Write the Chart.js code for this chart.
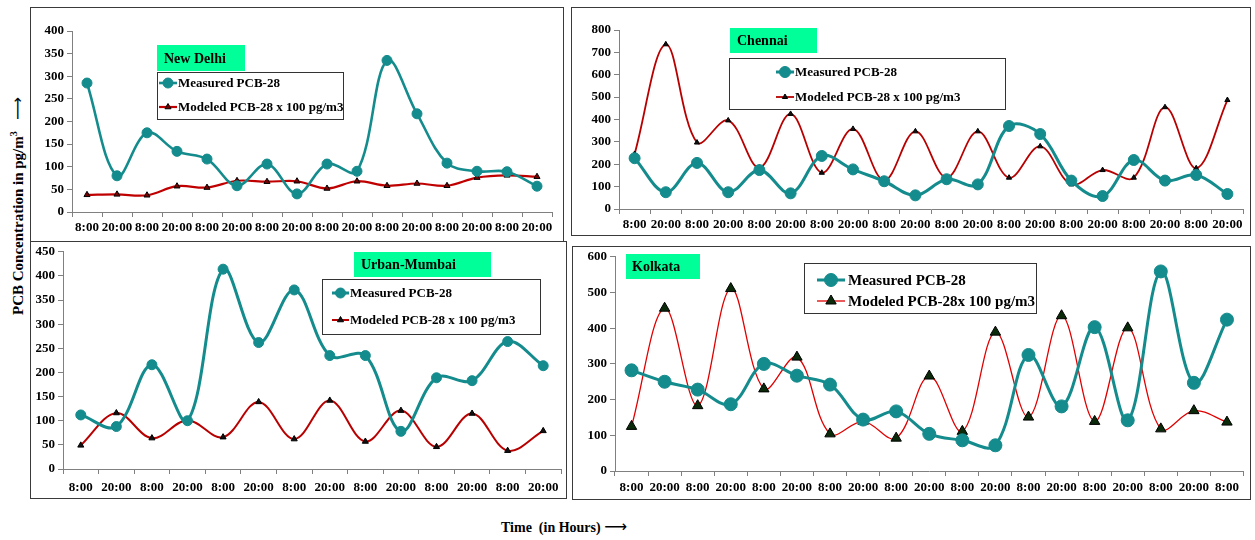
<!DOCTYPE html>
<html>
<head>
<meta charset="utf-8">
<script src="https://cdn.jsdelivr.net/npm/chart.js@4.4.1/dist/chart.umd.min.js"></script>
<style>
  html, body { margin: 0; padding: 0; background: #fff; }
  body { width: 1255px; height: 540px; position: relative; overflow: hidden;
         font-family: "Liberation Serif", "Times New Roman", serif; }
  .panel { position: absolute; }
  .panel canvas { position: absolute; left: 0; top: 0; }
  .frame { position: absolute; left: 0; top: 0; right: 0; bottom: 0; box-sizing: border-box;
           border: 1.5px solid #3a3a3a; pointer-events: none; }
  #ytitle { position: absolute; left: 17px; top: 206px; white-space: nowrap; font-weight: bold;
            font-size: 15px; transform: translate(-50%, -50%) rotate(-90deg); color: #000; }
  #ytitle sup { font-size: 10px; }
  #xtitle { position: absolute; left: 501px; top: 517px; white-space: nowrap; font-weight: bold;
            font-size: 14px; color: #000; }
  .arrow { font-weight: normal; font-family: "DejaVu Sans", sans-serif; font-size: 16px; }
</style>
</head>
<body>
<div class="panel" id="p-delhi"><canvas id="c-delhi"></canvas><div class="frame"></div></div>
<div class="panel" id="p-chennai"><canvas id="c-chennai"></canvas><div class="frame"></div></div>
<div class="panel" id="p-mumbai"><canvas id="c-mumbai"></canvas><div class="frame"></div></div>
<div class="panel" id="p-kolkata"><canvas id="c-kolkata"></canvas><div class="frame"></div></div>
<div id="ytitle">PCB Concentration in pg/m<sup>3</sup>&nbsp;&nbsp;&nbsp;<span class="arrow">&#x27F6;</span></div>
<div id="xtitle">Time&nbsp; (in Hours) <span class="arrow">&#x27F6;</span></div>

<script>
// ---- Sampling times (x-axis tick labels) ----
const delhiTimes   = ["8:00","20:00","8:00","20:00","8:00","20:00","8:00","20:00",
                      "8:00","20:00","8:00","20:00","8:00","20:00","8:00","20:00"];
const chennaiTimes = ["8:00","20:00","8:00","20:00","8:00","20:00","8:00","20:00","8:00","20:00",
                      "8:00","20:00","8:00","20:00","8:00","20:00","8:00","20:00","8:00","20:00"];
const mumbaiTimes  = ["8:00","20:00","8:00","20:00","8:00","20:00","8:00",
                      "20:00","8:00","20:00","8:00","20:00","8:00","20:00"];
const kolkataTimes = ["8:00","20:00","8:00","20:00","8:00","20:00","8:00","20:00","8:00","20:00",
                      "8:00","20:00","8:00","20:00","8:00","20:00","8:00","20:00","8:00"];

// ---- PCB-28 concentrations, pg/m3 ----
const delhiMeasured   = [285, 80, 175, 134, 117, 58, 106, 40, 106, 90, 335, 217, 108, 90, 89, 57];
const delhiModeled    = [38, 39, 37, 57, 54, 69, 67, 68, 52, 68, 58, 63, 58, 76, 81, 78];

const chennaiMeasured = [227, 75, 206, 75, 174, 70, 237, 177, 124, 61, 133, 110, 371, 335, 127, 58, 219, 127, 152, 67];
const chennaiModeled  = [246, 736, 297, 396, 185, 425, 162, 358, 128, 347, 140, 347, 140, 280, 110, 174, 140, 455, 182, 487];

const mumbaiMeasured  = [112, 88, 216, 100, 414, 262, 371, 235, 235, 78, 189, 183, 264, 214];
const mumbaiModeled   = [49, 116, 64, 101, 66, 139, 62, 142, 57, 121, 46, 115, 38, 79];

const kolkataMeasured = [282, 250, 228, 187, 300, 267, 242, 144, 167, 104, 86, 72, 325, 181, 403, 142, 559, 247, 424];
const kolkataModeled  = [125, 456, 183, 511, 230, 319, 104, 139, 92, 266, 111, 389, 151, 435, 139, 401, 118, 169, 137];

// ---- Axis ranges ----
const delhiAxis   = { max: 400, step: 50 };
const chennaiAxis = { max: 800, step: 100 };
const mumbaiAxis  = { max: 450, step: 50 };
const kolkataAxis = { max: 600, step: 100 };

// ---- Series names ----
const measuredName = "Measured PCB-28";
const modeledName  = "Modeled PCB-28 x 100 pg/m3";
const modeledNameK = "Modeled PCB-28x 100 pg/m3";

const FONT = '"Liberation Serif", "Times New Roman", serif';
const TEAL = '#148B8C';
const BADGE = '#00FF99';

// Draws the city badge and the boxed legend inside the plot
const panelDecor = {
  id: 'panelDecor',
  afterDatasetsDraw(chart, args, o) {
    const ctx = chart.ctx;
    const ox = o.origin[0], oy = o.origin[1];
    ctx.save();
    const b = o.badge;
    ctx.fillStyle = BADGE;
    ctx.fillRect(b.x - ox, b.y - oy, b.w, b.h);
    ctx.fillStyle = '#000';
    ctx.font = 'bold ' + b.size + 'px ' + FONT;
    ctx.textBaseline = 'middle';
    ctx.textAlign = 'left';
    ctx.fillText(b.text, b.x - ox + b.pad, b.y - oy + b.h / 2 + 1);

    const l = o.legend;
    ctx.fillStyle = '#fff';
    ctx.fillRect(l.x - ox, l.y - oy, l.w, l.h);
    ctx.strokeStyle = '#333';
    ctx.lineWidth = 1;
    ctx.strokeRect(l.x - ox + 0.5, l.y - oy + 0.5, l.w, l.h);
    chart.data.datasets.forEach((ds, i) => {
      const y = l.rows[i] - oy;
      const x1 = l.x1 - ox, x2 = l.x2 - ox;
      ctx.strokeStyle = ds.borderColor;
      ctx.lineWidth = ds.borderWidth;
      ctx.beginPath(); ctx.moveTo(x1, y); ctx.lineTo(x2, y); ctx.stroke();
      ctx.fillStyle = ds.pointBackgroundColor;
      ctx.strokeStyle = ds.pointBorderColor;
      ctx.lineWidth = ds.pointBorderWidth;
      Chart.helpers.drawPoint(ctx, {
        pointStyle: ds.pointStyle, radius: ds.pointRadius, rotation: 0,
        borderWidth: ds.pointBorderWidth
      }, (x1 + x2) / 2, y);
      ctx.fillStyle = '#000';
      ctx.font = 'bold ' + l.size + 'px ' + FONT;
      ctx.textBaseline = 'middle';
      ctx.fillText(ds.label, l.tx - ox, y + 1);
    });
    ctx.restore();
  }
};

function makePanel(p) {
  const wrap = document.getElementById(p.wrap);
  wrap.style.left = p.box.x + 'px';
  wrap.style.top = p.box.y + 'px';
  wrap.style.width = p.box.w + 'px';
  wrap.style.height = p.box.h + 'px';
  const cv = document.getElementById(p.canvas);
  cv.width = p.box.w; cv.height = p.box.h;
  cv.style.width = p.box.w + 'px'; cv.style.height = p.box.h + 'px';

  const yW = p.area.l - p.box.x;
  const xH = p.box.y + p.box.h - p.area.b;
  const padTop = p.area.t - p.box.y;
  const padRight = p.box.x + p.box.w - p.area.r;
  const tickFont = { family: FONT, size: 13, weight: 'bold' };

  new Chart(cv, {
    type: 'line',
    data: { labels: p.labels, datasets: p.datasets },
    options: {
      responsive: false,
      animation: false,
      events: [],
      layout: { padding: { left: 0, top: padTop, right: padRight, bottom: 0 } },
      elements: { line: { tension: 0.36, fill: false } },
      scales: {
        x: {
          type: 'category',
          offset: true,
          grid: { offset: true, drawOnChartArea: false, drawTicks: true, tickLength: 5, color: '#808080' },
          border: { display: true, color: '#808080', width: 1 },
          ticks: { color: '#000', font: tickFont, maxRotation: 0, minRotation: 0, autoSkip: false, padding: p.xPad },
          afterFit: s => { s.height = xH; }
        },
        y: {
          min: 0, max: p.axis.max,
          grid: { drawOnChartArea: false, drawTicks: true, tickLength: 5, color: '#808080' },
          border: { display: true, color: '#808080', width: 1 },
          ticks: { color: '#000', font: tickFont, stepSize: p.axis.step, padding: 3 },
          afterFit: s => { s.width = yW; }
        }
      },
      plugins: {
        legend: { display: false },
        tooltip: { enabled: false },
        panelDecor: { origin: [p.box.x, p.box.y], badge: p.badge, legend: p.legend }
      }
    },
    plugins: [panelDecor]
  });
}

function measuredSet(values, width, radius) {
  return {
    label: measuredName, data: values,
    borderColor: TEAL, borderWidth: width,
    pointStyle: 'circle', pointRadius: radius,
    pointBackgroundColor: TEAL, pointBorderColor: TEAL, pointBorderWidth: 1
  };
}
function modeledSet(label, values, color, width, radius, fill) {
  return {
    label: label, data: values,
    borderColor: color, borderWidth: width,
    pointStyle: 'triangle', pointRadius: radius,
    pointBackgroundColor: fill, pointBorderColor: '#000', pointBorderWidth: 1
  };
}

makePanel({
  wrap: 'p-delhi', canvas: 'c-delhi',
  box: { x: 30, y: 7, w: 534, h: 235 },
  area: { l: 72, r: 552, t: 31, b: 212 },
  labels: delhiTimes, axis: delhiAxis, xPad: 3,
  datasets: [
    measuredSet(delhiMeasured, 2.6, 5),
    modeledSet(modeledName, delhiModeled, '#C00000', 2.2, 3.5, '#7A0000')
  ],
  badge: { x: 157, y: 45, w: 88, h: 26, text: 'New Delhi', size: 14, pad: 7 },
  legend: { x: 157, y: 72, w: 186, h: 47, rows: [83, 107], x1: 159, x2: 177, tx: 178, size: 13 }
});

makePanel({
  wrap: 'p-chennai', canvas: 'c-chennai',
  box: { x: 571, y: 7, w: 680, h: 229 },
  area: { l: 619, r: 1243, t: 30, b: 209 },
  labels: chennaiTimes, axis: chennaiAxis, xPad: 3,
  datasets: [
    measuredSet(chennaiMeasured, 3, 5.5),
    modeledSet(modeledName, chennaiModeled, '#B80000', 1.8, 3, '#111')
  ],
  badge: { x: 730, y: 28, w: 87, h: 25, text: 'Chennai', size: 14, pad: 7 },
  legend: { x: 729, y: 58, w: 276, h: 51, rows: [72, 97], x1: 776, x2: 794, tx: 795, size: 13 }
});

makePanel({
  wrap: 'p-mumbai', canvas: 'c-mumbai',
  box: { x: 30, y: 241, w: 537, h: 258 },
  area: { l: 63, r: 566, t: 249, b: 469 },
  labels: mumbaiTimes, axis: mumbaiAxis, xPad: 6,
  datasets: [
    measuredSet(mumbaiMeasured, 3, 5),
    modeledSet(modeledName, mumbaiModeled, '#B80000', 2, 3.5, '#111')
  ],
  badge: { x: 354, y: 252, w: 137, h: 25, text: 'Urban-Mumbai', size: 14, pad: 7 },
  legend: { x: 322, y: 279, w: 218, h: 55, rows: [293, 320], x1: 332, x2: 349, tx: 350, size: 13 }
});

makePanel({
  wrap: 'p-kolkata', canvas: 'c-kolkata',
  box: { x: 572, y: 246, w: 679, h: 254 },
  area: { l: 615, r: 1249, t: 254, b: 471 },
  labels: kolkataTimes, axis: kolkataAxis, xPad: 4,
  datasets: [
    measuredSet(kolkataMeasured, 3, 6.5),
    modeledSet(modeledNameK, kolkataModeled, '#E00000', 1.3, 6, '#0A2A0A')
  ],
  badge: { x: 626, y: 254, w: 74, h: 25, text: 'Kolkata', size: 14, pad: 6 },
  legend: { x: 804, y: 263, w: 232, h: 50, rows: [280, 301], x1: 817, x2: 845, tx: 848, size: 15 }
});
</script>
</body>
</html>
